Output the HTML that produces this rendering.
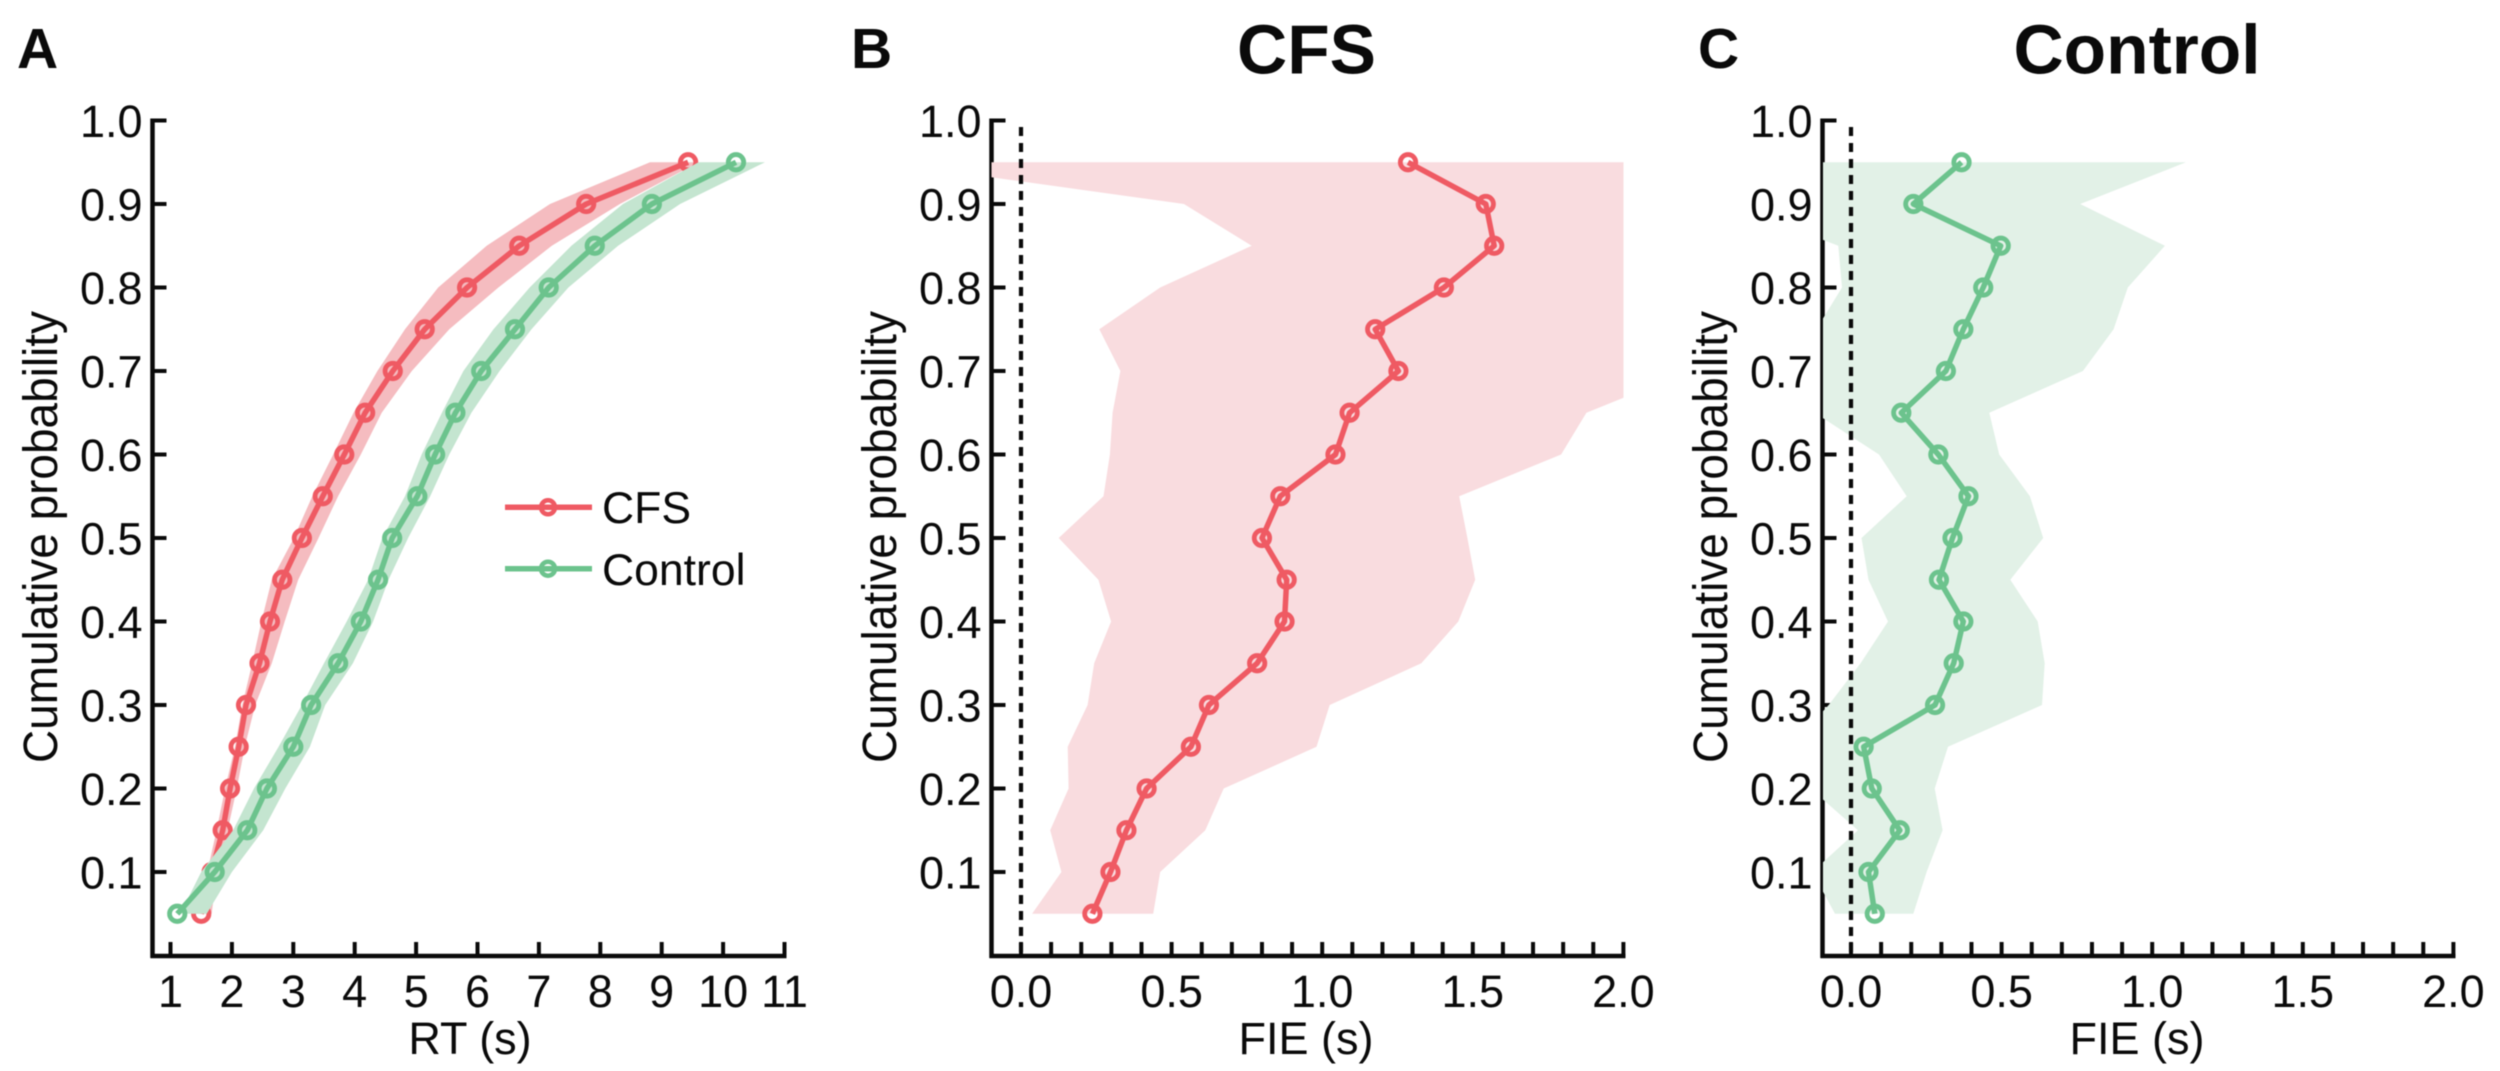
<!DOCTYPE html>
<html lang="en">
<head>
<meta charset="utf-8">
<title>Cumulative probability of RT and FIE</title>
<style>
html,body{margin:0;padding:0;background:#fff;}
svg{display:block;filter:blur(0.6px);}
text{font-family:"Liberation Sans",Arial,sans-serif;fill:#0a0a0a;}
</style>
</head>
<body>
<svg id="figure" width="2500" height="1071" viewBox="0 0 2500 1071" xmlns="http://www.w3.org/2000/svg">
  <rect width="2500" height="1071" fill="#fff"/>
  <defs>
    <clipPath id="clip-b"><rect x="991.5" y="100" width="632" height="880"/></clipPath>
    <clipPath id="clip-c"><rect x="1823" y="100" width="631" height="880"/></clipPath>
  </defs>
  <g id="panel-a"></g>
  <g id="panel-b"></g>
  <g id="panel-c"></g>

  <text x="17" y="68" font-size="57" font-weight="700">A</text>
  <text x="851" y="68" font-size="57" font-weight="700">B</text>
  <text x="1698" y="68" font-size="57" font-weight="700">C</text>
  <text x="1306.5" y="73.5" font-size="69.5" font-weight="700" text-anchor="middle">CFS</text>
  <text x="2137" y="73.5" font-size="69.5" font-weight="700" text-anchor="middle">Control</text>

  <text transform="translate(57,537) rotate(-90)" font-size="48" text-anchor="middle" textLength="452" lengthAdjust="spacingAndGlyphs">Cumulative probability</text>
  <text transform="translate(896,537) rotate(-90)" font-size="48" text-anchor="middle" textLength="452" lengthAdjust="spacingAndGlyphs">Cumulative probability</text>
  <text transform="translate(1727,537) rotate(-90)" font-size="48" text-anchor="middle" textLength="452" lengthAdjust="spacingAndGlyphs">Cumulative probability</text>
  <text x="470" y="1054" font-size="45" text-anchor="middle">RT (s)</text>
  <text x="1306" y="1054" font-size="45" text-anchor="middle">FIE (s)</text>
  <text x="2137" y="1054" font-size="45" text-anchor="middle">FIE (s)</text>

  <g id="legend">
    <g>
      <line x1="505" x2="592" y1="507.3" y2="507.3" stroke="#ef5a63" stroke-width="5.5"/>
      <circle cx="548" cy="507.3" r="7" fill="none" stroke="#ef5a63" stroke-width="4.5"/>
      <text x="602" y="523" font-size="44.5">CFS</text>
    </g>
    <g>
      <line x1="505" x2="592" y1="568.7" y2="568.7" stroke="#6cc38d" stroke-width="5.5"/>
      <circle cx="548" cy="568.7" r="7" fill="none" stroke="#6cc38d" stroke-width="4.5"/>
      <text x="602" y="585" font-size="44.5">Control</text>
    </g>
  </g>
</svg>
<script>
// ---- shared axis data ----
const probabilities = [0.05,0.10,0.15,0.20,0.25,0.30,0.35,0.40,0.45,0.50,0.55,0.60,0.65,0.70,0.75,0.80,0.85,0.90,0.95];
const yTicks = [0.1,0.2,0.3,0.4,0.5,0.6,0.7,0.8,0.9,1.0];
const yTickLabels = ["0.1","0.2","0.3","0.4","0.5","0.6","0.7","0.8","0.9","1.0"];

const rtTicks = [1,2,3,4,5,6,7,8,9,10,11];
const rtTickLabels = ["1","2","3","4","5","6","7","8","9","10","11"];
const fieTicks = [0,0.1,0.2,0.3,0.4,0.5,0.6,0.7,0.8,0.9,1.0,1.1,1.2,1.3,1.4,1.5,1.6,1.7,1.8,1.9,2.0];
const fieLabelValues = [0,0.5,1.0,1.5,2.0];
const fieTickLabels = ["0.0","0.5","1.0","1.5","2.0"];

// ---- panel A: RT ----
const rtCfs = [1.50,1.67,1.85,1.97,2.11,2.23,2.45,2.62,2.82,3.14,3.48,3.83,4.17,4.62,5.14,5.83,6.68,7.77,9.43];
const rtCfsLow = [1.37,1.60,1.75,1.89,2.05,2.17,2.33,2.48,2.65,3.01,3.31,3.65,3.98,4.37,4.82,5.36,6.15,7.18,8.81];
const rtCfsHigh = [1.67,1.76,1.93,2.08,2.21,2.38,2.65,2.86,3.08,3.41,3.73,4.10,4.44,4.93,5.54,6.34,7.21,8.32,9.60];
const rtControl = [1.11,1.72,2.25,2.57,3.00,3.29,3.73,4.10,4.38,4.61,5.02,5.31,5.64,6.06,6.61,7.16,7.91,8.84,10.21];
const rtControlLow = [1.16,1.50,2.02,2.36,2.76,3.14,3.50,3.87,4.22,4.45,4.82,5.09,5.42,5.77,6.26,6.85,7.53,8.37,9.60];
const rtControlHigh = [1.59,2.00,2.51,2.87,3.27,3.52,3.97,4.30,4.55,4.87,5.23,5.54,5.90,6.36,6.88,7.48,8.29,9.30,10.68];

// ---- panel B: FIE CFS ----
const fieCfs = [0.237,0.297,0.350,0.417,0.564,0.624,0.784,0.875,0.882,0.800,0.861,1.044,1.091,1.253,1.176,1.404,1.571,1.543,1.285];
const fieCfsLow = [0.037,0.134,0.097,0.158,0.155,0.221,0.243,0.299,0.257,0.125,0.274,0.295,0.304,0.330,0.260,0.462,0.766,0.541,-0.457];
const fieCfsHigh = [0.439,0.462,0.612,0.673,0.981,1.025,1.329,1.452,1.508,1.482,1.455,1.793,1.877,2.220,2.400,2.500,2.600,2.600,2.600];

// ---- panel C: FIE Control ----
const fieControl = [0.079,0.058,0.162,0.069,0.042,0.279,0.341,0.373,0.292,0.337,0.390,0.290,0.167,0.315,0.373,0.439,0.497,0.207,0.367];
const fieControlLow = [-0.053,-0.128,0.023,-0.134,-0.200,-0.074,0.032,0.123,0.058,0.035,0.185,0.093,-0.120,-0.200,-0.115,-0.030,-0.042,-0.400,-0.400];
const fieControlHigh = [0.207,0.251,0.304,0.278,0.322,0.634,0.643,0.620,0.529,0.638,0.594,0.492,0.459,0.770,0.872,0.919,1.042,0.761,1.112];

const SVG_NS = "http://www.w3.org/2000/svg";
const RED = "#ef5a63", GREEN = "#6cc38d";

function yScale(p) { return 120.5 + (1 - p) * 835; }
function rtScale(v) { return 170.5 + (v - 1) * 61.4; }
function fieScaleB(v) { return 1021 + v * 301.2; }
function fieScaleC(v) { return 1851 + v * 301.2; }

function make(tag, parent, attrs, name) {
  const el = document.createElementNS(SVG_NS, tag);
  for (const k in attrs) el.setAttribute(k, attrs[k]);
  
  
  parent.appendChild(el);
  return el;
}

function drawAxes(g, axisX, axisRight, xScale, xTicks, labelValues, labels, key) {
  const yBottom = 956, sw = 4.5;
  make('line', g, {x1: axisX, x2: axisX, y1: yScale(1) - 2, y2: yBottom + 2, stroke: '#0a0a0a', 'stroke-width': sw}, 'y-axis-line-' + key);
  make('line', g, {x1: axisX - 2, x2: axisRight + 2, y1: yBottom, y2: yBottom, stroke: '#0a0a0a', 'stroke-width': sw}, 'x-axis-line-' + key);
  yTicks.forEach(function (t, i) {
    const y = yScale(t);
    make('line', g, {x1: axisX, x2: axisX + 14, y1: y, y2: y, stroke: '#0a0a0a', 'stroke-width': 4}, 'y-tick-' + key);
    const lab = make('text', g, {x: axisX - 10, y: y + 16.5, 'font-size': 45, 'text-anchor': 'end'}, 'y-tick-label-' + key);
    lab.textContent = yTickLabels[i];
  });
  xTicks.forEach(function (t) {
    const x = xScale(t);
    make('line', g, {x1: x, x2: x, y1: yBottom - 14, y2: yBottom, stroke: '#0a0a0a', 'stroke-width': 4}, 'x-tick-' + key);
  });
  labelValues.forEach(function (t, i) {
    const lab = make('text', g, {x: xScale(t), y: 1007, 'font-size': 45, 'text-anchor': 'middle'}, 'x-tick-label-' + key);
    lab.textContent = labels[i];
  });
}

function drawBand(g, xScale, low, high, fill, clip, name) {
  const pts = [];
  probabilities.forEach(function (p, i) { pts.push(xScale(low[i]).toFixed(1) + ',' + yScale(p).toFixed(1)); });
  for (let i = probabilities.length - 1; i >= 0; i--) {
    pts.push(xScale(high[i]).toFixed(1) + ',' + yScale(probabilities[i]).toFixed(1));
  }
  const attrs = {points: pts.join(' '), fill: fill};
  if (clip) attrs['clip-path'] = 'url(#' + clip + ')';
  make('polygon', g, attrs, name);
}

function drawSeries(g, xScale, values, color, name) {
  const pts = values.map(function (v, i) { return xScale(v).toFixed(1) + ',' + yScale(probabilities[i]).toFixed(1); });
  make('polyline', g, {points: pts.join(' '), fill: 'none', stroke: color, 'stroke-width': 5.5, 'stroke-linejoin': 'round'}, name + '-line');
  values.forEach(function (v, i) {
    make('circle', g, {cx: xScale(v), cy: yScale(probabilities[i]), r: 7.7, fill: 'none', stroke: color, 'stroke-width': 4.8}, name + '-point');
  });
}

function drawZeroLine(g, xScale, key) {
  make('line', g, {x1: xScale(0), x2: xScale(0), y1: 127, y2: 956, stroke: '#0a0a0a', 'stroke-width': 4.2, 'stroke-dasharray': '9 7'}, 'zero-reference-line-' + key);
}

const panelA = document.getElementById('panel-a');
drawAxes(panelA, 152.5, 784.5, rtScale, rtTicks, rtTicks, rtTickLabels, 'a');
drawBand(panelA, rtScale, rtCfsLow, rtCfsHigh, '#f5bcc0', null, 'confidence-band-cfs');
drawSeries(panelA, rtScale, rtCfs, RED, 'series-cfs');
drawBand(panelA, rtScale, rtControlLow, rtControlHigh, '#c4e5d0', null, 'confidence-band-control');
drawSeries(panelA, rtScale, rtControl, GREEN, 'series-control');

const panelB = document.getElementById('panel-b');
drawAxes(panelB, 991.5, 1623.5, fieScaleB, fieTicks, fieLabelValues, fieTickLabels, 'b');
drawBand(panelB, fieScaleB, fieCfsLow, fieCfsHigh, '#f9dcdf', 'clip-b', 'confidence-band-cfs-fie');
drawZeroLine(panelB, fieScaleB, 'b');
drawSeries(panelB, fieScaleB, fieCfs, RED, 'series-cfs-fie');

const panelC = document.getElementById('panel-c');
drawAxes(panelC, 1822.5, 2453.5, fieScaleC, fieTicks, fieLabelValues, fieTickLabels, 'c');
drawBand(panelC, fieScaleC, fieControlLow, fieControlHigh, '#e2f1e7', 'clip-c', 'confidence-band-control-fie');
drawZeroLine(panelC, fieScaleC, 'c');
drawSeries(panelC, fieScaleC, fieControl, GREEN, 'series-control-fie');
</script>
</body>
</html>
